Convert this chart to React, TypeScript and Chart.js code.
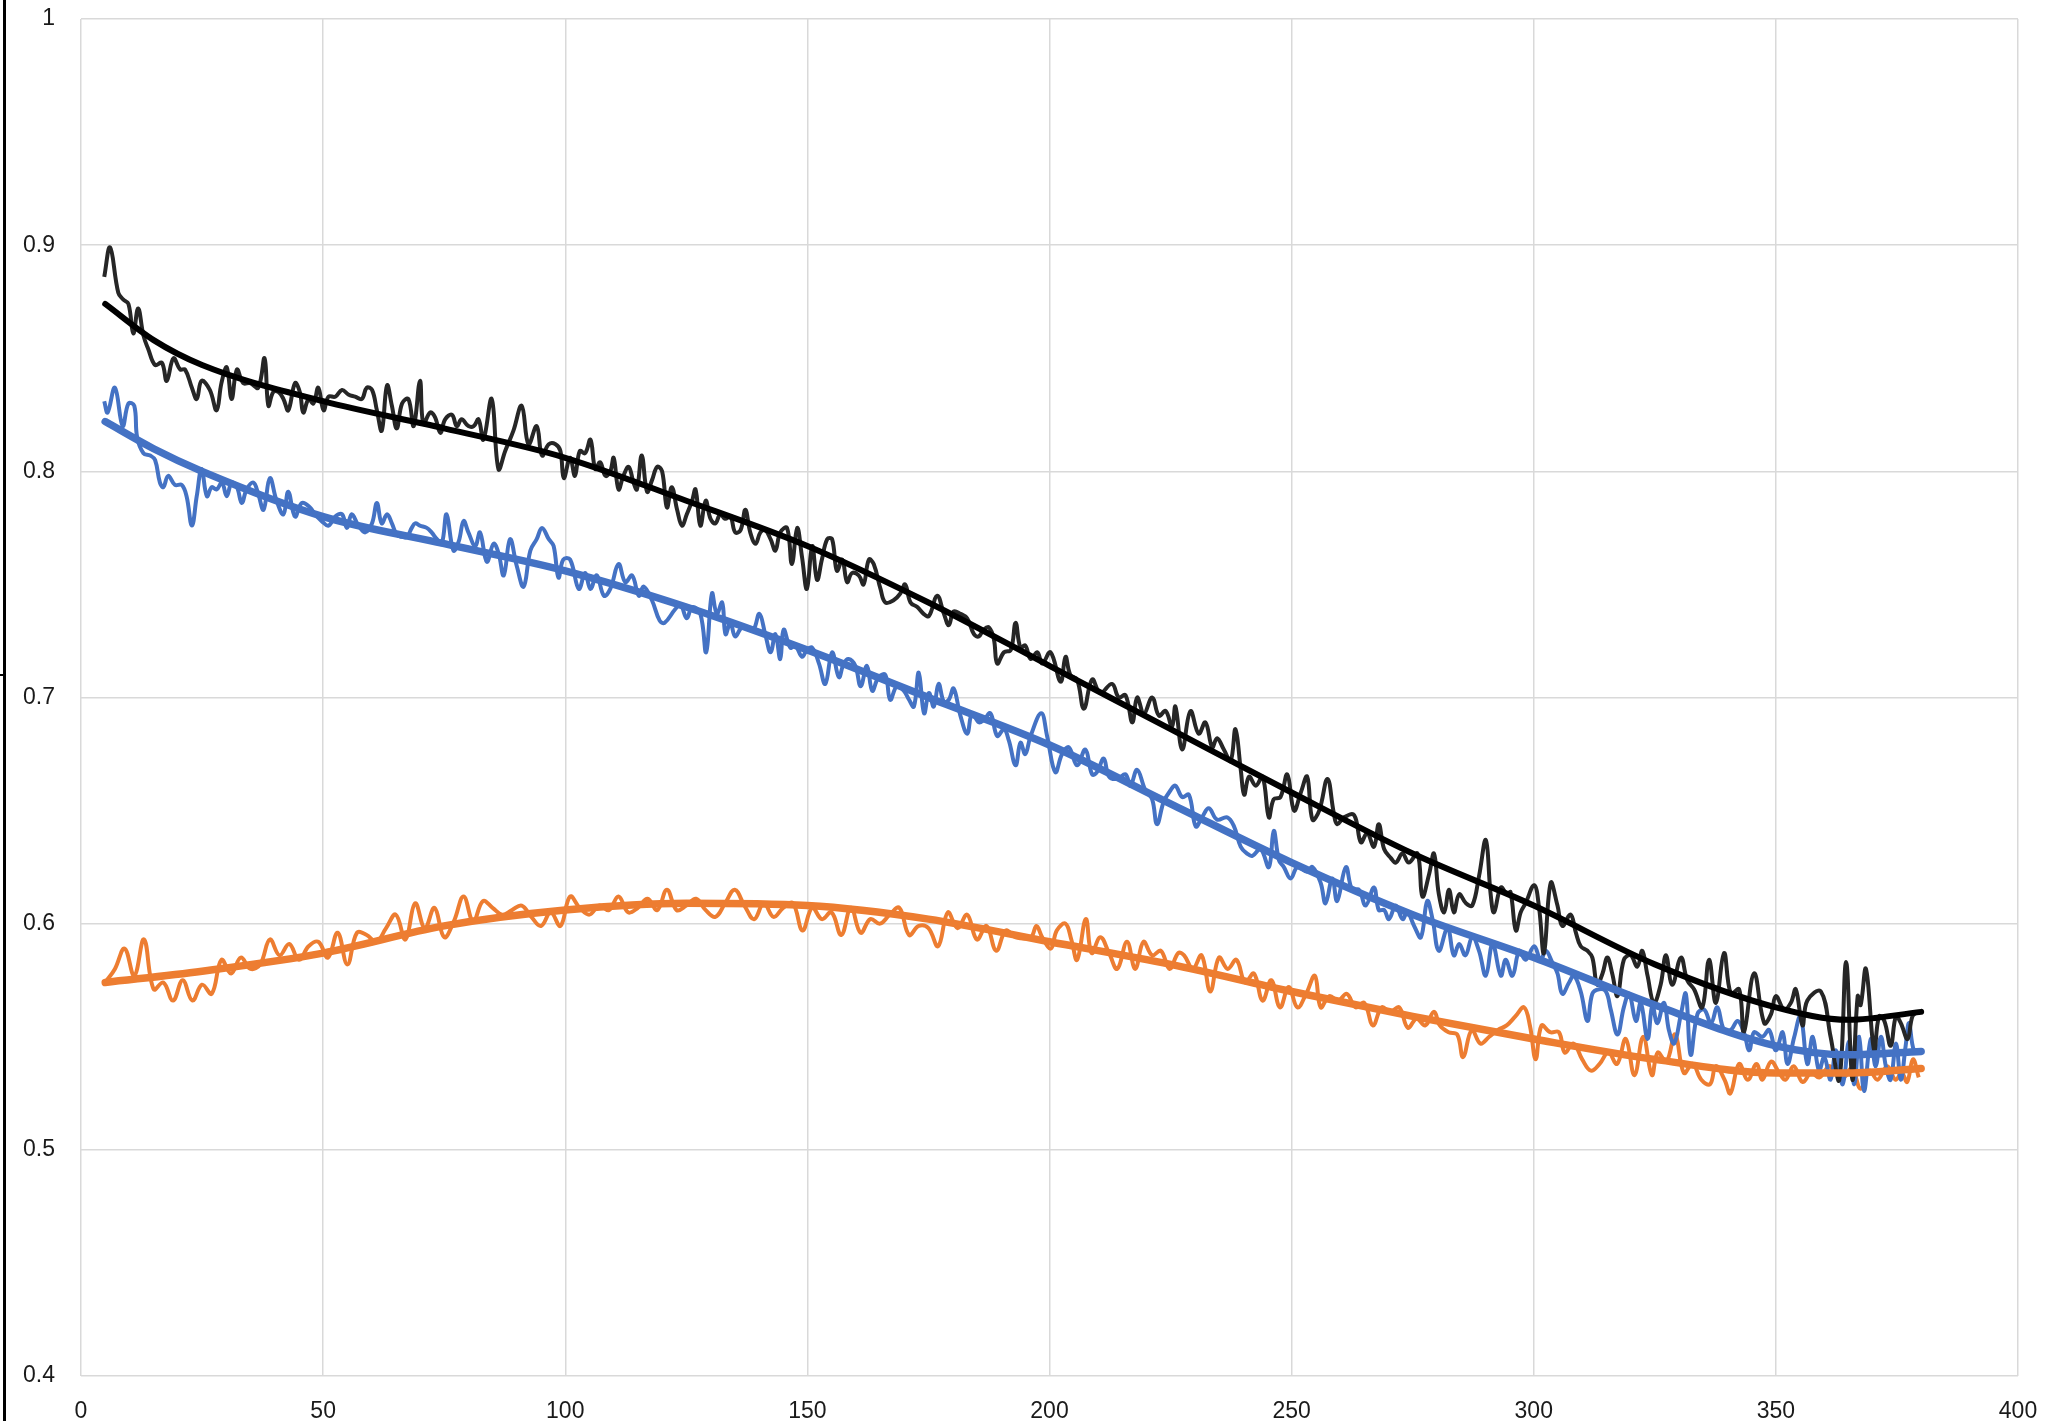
import { useEffect, useRef } from "react";
import { Chart, registerables } from "chart.js";
Chart.register(...registerables);

const X_MIN = 0;
const X_MAX = 400;
const X_STEP = 50;
const Y_MIN = 0.4;
const Y_MAX = 1;
const Y_STEP = 0.1;

const blackNoisy: number[][] = [[4.8,0.886],[6.0,0.899],[7.7,0.879],[8.7,0.876],[9.8,0.874],[10.8,0.861],[11.8,0.872],[12.9,0.860],[13.9,0.854],[15.3,0.847],[16.7,0.848],[17.7,0.840],[19.1,0.850],[20.5,0.845],[21.5,0.845],[22.9,0.837],[23.9,0.832],[24.9,0.840],[26.6,0.836],[28.0,0.827],[29.0,0.839],[30.1,0.846],[31.1,0.832],[32.2,0.845],[33.5,0.839],[34.9,0.839],[36.6,0.837],[37.9,0.850],[38.7,0.829],[39.7,0.835],[40.8,0.835],[41.8,0.832],[42.8,0.827],[44.2,0.839],[45.2,0.835],[45.9,0.826],[47.0,0.832],[48.0,0.830],[49.0,0.837],[50.1,0.827],[51.1,0.833],[52.5,0.833],[53.9,0.836],[55.2,0.834],[56.6,0.833],[58.0,0.832],[59.0,0.837],[60.1,0.836],[61.1,0.827],[62.1,0.818],[63.2,0.838],[64.2,0.829],[65.2,0.819],[66.3,0.830],[67.6,0.832],[68.7,0.820],[70.0,0.840],[70.7,0.821],[72.1,0.826],[73.1,0.824],[74.2,0.817],[75.2,0.823],[76.6,0.825],[77.6,0.820],[78.6,0.823],[80.0,0.820],[81.1,0.820],[82.1,0.823],[83.1,0.814],[84.8,0.832],[86.2,0.801],[87.6,0.809],[89.3,0.818],[91.0,0.829],[92.4,0.812],[94.1,0.820],[95.2,0.807],[96.6,0.812],[98.0,0.812],[99.0,0.809],[99.7,0.797],[101.0,0.806],[102.0,0.798],[103.0,0.809],[104.1,0.808],[105.2,0.814],[106.2,0.801],[107.2,0.804],[108.3,0.798],[109.3,0.800],[110.0,0.806],[111.0,0.792],[112.0,0.798],[113.1,0.802],[114.1,0.795],[114.8,0.792],[115.8,0.807],[116.9,0.791],[117.9,0.796],[119.0,0.802],[120.0,0.800],[121.0,0.784],[122.0,0.793],[123.1,0.783],[124.1,0.776],[125.1,0.781],[126.2,0.787],[126.9,0.792],[127.9,0.776],[129.0,0.787],[130.0,0.779],[131.0,0.777],[132.0,0.781],[133.0,0.779],[134.1,0.780],[135.1,0.773],[136.2,0.774],[137.2,0.783],[138.2,0.773],[139.3,0.768],[140.3,0.773],[141.3,0.774],[142.4,0.770],[143.4,0.765],[144.4,0.773],[145.8,0.775],[146.8,0.759],[147.9,0.775],[148.9,0.762],[149.9,0.748],[151.0,0.767],[152.0,0.752],[153.0,0.761],[154.1,0.770],[155.1,0.770],[156.1,0.756],[157.2,0.761],[158.2,0.751],[159.2,0.755],[160.6,0.754],[161.6,0.750],[162.7,0.761],[163.7,0.759],[165.1,0.748],[166.1,0.742],[167.8,0.743],[169.2,0.746],[170.2,0.750],[171.3,0.742],[172.7,0.740],[174.0,0.737],[175.1,0.736],[176.8,0.745],[178.2,0.737],[179.2,0.732],[180.2,0.738],[181.6,0.737],[183.0,0.735],[184.4,0.728],[185.4,0.727],[186.4,0.730],[187.5,0.731],[188.5,0.726],[189.2,0.715],[190.6,0.720],[192.0,0.721],[193.0,0.733],[194.0,0.722],[195.0,0.723],[196.1,0.717],[197.5,0.720],[198.5,0.715],[200.2,0.720],[202.3,0.707],[203.3,0.718],[204.3,0.710],[205.7,0.708],[207.1,0.695],[208.8,0.708],[210.5,0.702],[212.9,0.706],[214.3,0.700],[215.7,0.701],[217.1,0.689],[218.1,0.700],[219.5,0.693],[221.2,0.700],[222.6,0.692],[224.0,0.694],[225.3,0.687],[226.0,0.696],[227.4,0.677],[229.1,0.694],[230.8,0.684],[232.2,0.689],[233.6,0.678],[234.6,0.682],[236.0,0.677],[237.4,0.672],[238.4,0.686],[239.5,0.668],[240.2,0.657],[241.2,0.665],[242.6,0.661],[244.0,0.665],[245.3,0.647],[246.3,0.655],[247.7,0.656],[249.1,0.666],[250.5,0.650],[251.9,0.658],[253.2,0.665],[254.3,0.646],[255.7,0.650],[257.4,0.664],[258.7,0.649],[259.4,0.644],[260.8,0.647],[262.9,0.648],[264.3,0.636],[265.6,0.640],[267.0,0.634],[268.0,0.644],[269.1,0.633],[270.5,0.629],[271.5,0.627],[272.9,0.631],[274.2,0.627],[276.0,0.631],[277.0,0.612],[278.4,0.622],[279.4,0.631],[280.4,0.613],[281.5,0.605],[282.5,0.615],[283.5,0.605],[284.6,0.613],[286.0,0.609],[287.3,0.608],[288.7,0.621],[290.1,0.637],[291.1,0.613],[291.8,0.605],[293.2,0.616],[294.5,0.613],[295.2,0.614],[296.3,0.597],[297.3,0.605],[298.3,0.609],[300.1,0.617],[301.1,0.607],[302.1,0.587],[303.5,0.618],[304.9,0.608],[305.9,0.599],[307.6,0.604],[308.7,0.596],[309.7,0.590],[311.1,0.588],[312.1,0.585],[313.1,0.573],[314.2,0.578],[315.2,0.585],[316.2,0.578],[317.3,0.568],[318.6,0.584],[320.0,0.586],[321.4,0.581],[322.4,0.588],[323.5,0.577],[324.8,0.565],[326.2,0.573],[327.3,0.586],[328.6,0.573],[330.4,0.585],[331.7,0.575],[333.1,0.571],[334.8,0.563],[336.2,0.584],[337.6,0.565],[339.3,0.587],[340.7,0.569],[342.4,0.571],[343.4,0.552],[345.5,0.578],[347.6,0.556],[349.0,0.560],[350.0,0.568],[351.7,0.562],[353.1,0.565],[354.1,0.571],[355.5,0.555],[356.5,0.566],[359.3,0.570],[361.3,0.550],[363.1,0.531],[364.5,0.583],[365.8,0.531],[366.9,0.568],[367.5,0.564],[368.6,0.580],[370.3,0.544],[371.3,0.559],[372.4,0.557],[373.7,0.546],[374.8,0.559],[375.8,0.556],[377.2,0.549],[378.2,0.559],[379.3,0.561]];

const blueNoisy: number[][] = [[4.8,0.831],[5.5,0.826],[7.0,0.837],[8.6,0.820],[9.8,0.830],[11.0,0.829],[11.6,0.815],[12.9,0.808],[14.3,0.807],[15.3,0.805],[16.3,0.795],[17.0,0.793],[18.0,0.798],[19.4,0.794],[20.8,0.794],[21.8,0.789],[22.9,0.776],[23.9,0.789],[24.9,0.801],[26.0,0.789],[27.0,0.793],[28.0,0.792],[29.1,0.795],[30.1,0.789],[31.1,0.795],[32.2,0.793],[33.2,0.786],[34.2,0.792],[35.6,0.795],[36.6,0.790],[37.7,0.783],[39.0,0.797],[40.4,0.787],[41.8,0.781],[42.8,0.791],[44.2,0.780],[45.6,0.786],[47.3,0.784],[48.3,0.781],[49.7,0.778],[51.1,0.776],[52.5,0.780],[53.9,0.781],[54.9,0.775],[55.9,0.781],[57.3,0.776],[58.7,0.773],[60.1,0.777],[61.1,0.786],[62.1,0.777],[63.2,0.781],[64.2,0.777],[65.2,0.772],[66.3,0.771],[67.3,0.771],[68.3,0.775],[69.0,0.777],[70.0,0.776],[71.4,0.775],[72.4,0.773],[73.5,0.770],[74.5,0.768],[75.5,0.781],[76.9,0.765],[78.0,0.769],[79.0,0.778],[80.0,0.773],[81.4,0.767],[82.4,0.773],[83.8,0.760],[85.2,0.768],[86.2,0.764],[87.3,0.754],[88.6,0.770],[90.0,0.758],[91.4,0.749],[92.8,0.765],[94.1,0.770],[95.2,0.775],[96.6,0.770],[97.6,0.767],[98.6,0.753],[99.6,0.761],[101.0,0.761],[102.8,0.748],[104.1,0.755],[105.2,0.748],[106.5,0.754],[108.0,0.745],[109.3,0.748],[111.0,0.759],[112.4,0.751],[113.8,0.754],[115.2,0.745],[116.2,0.749],[117.9,0.743],[119.5,0.734],[120.5,0.733],[122.7,0.739],[123.8,0.741],[125.1,0.735],[126.2,0.740],[127.9,0.737],[129.1,0.720],[130.3,0.746],[131.3,0.737],[132.4,0.742],[133.1,0.728],[134.1,0.733],[135.1,0.727],[136.5,0.731],[137.9,0.730],[138.9,0.730],[140.1,0.737],[141.3,0.728],[142.4,0.720],[143.4,0.728],[144.4,0.717],[145.1,0.730],[146.5,0.722],[147.5,0.723],[148.9,0.718],[149.9,0.721],[151.0,0.722],[152.4,0.715],[153.7,0.706],[155.1,0.720],[156.5,0.709],[157.5,0.715],[158.5,0.717],[159.9,0.714],[161.0,0.705],[162.3,0.714],[163.4,0.703],[164.7,0.709],[166.1,0.710],[167.1,0.699],[168.5,0.705],[169.9,0.703],[171.0,0.699],[172.0,0.696],[173.0,0.711],[174.1,0.693],[175.1,0.702],[176.1,0.696],[177.1,0.706],[178.2,0.698],[179.2,0.699],[180.2,0.704],[181.6,0.692],[183.0,0.684],[184.0,0.693],[185.4,0.689],[186.4,0.690],[187.8,0.693],[189.2,0.683],[190.6,0.686],[191.6,0.681],[193.0,0.670],[194.0,0.680],[195.0,0.675],[196.1,0.683],[198.3,0.693],[199.5,0.683],[201.2,0.667],[202.6,0.675],[204.0,0.678],[205.7,0.670],[207.4,0.677],[208.8,0.666],[209.8,0.667],[211.2,0.673],[212.3,0.665],[214.0,0.664],[215.7,0.666],[216.7,0.661],[218.1,0.668],[219.8,0.659],[221.2,0.655],[222.2,0.644],[223.6,0.654],[225.0,0.659],[226.0,0.661],[227.4,0.656],[228.8,0.657],[230.2,0.643],[231.5,0.647],[232.9,0.651],[234.6,0.646],[236.7,0.647],[238.1,0.643],[239.5,0.634],[240.8,0.631],[241.9,0.630],[243.6,0.633],[245.3,0.625],[246.3,0.641],[247.4,0.628],[248.4,0.625],[249.8,0.620],[251.2,0.625],[253.2,0.623],[254.3,0.625],[256.0,0.618],[257.0,0.609],[258.4,0.620],[259.4,0.610],[261.2,0.625],[262.5,0.615],[263.9,0.615],[265.3,0.608],[267.0,0.616],[268.0,0.606],[269.1,0.606],[270.1,0.602],[271.5,0.608],[272.9,0.602],[273.9,0.605],[275.3,0.599],[276.7,0.594],[278.0,0.610],[279.1,0.602],[280.4,0.588],[282.2,0.598],[283.5,0.586],[284.6,0.591],[285.9,0.586],[287.3,0.594],[288.7,0.588],[290.1,0.577],[291.5,0.591],[293.2,0.577],[294.2,0.584],[295.6,0.577],[297.0,0.588],[298.3,0.584],[300.1,0.590],[301.4,0.584],[302.5,0.588],[303.8,0.583],[304.9,0.578],[305.9,0.569],[307.3,0.574],[308.3,0.577],[309.7,0.570],[311.1,0.557],[312.1,0.569],[313.5,0.571],[314.9,0.570],[315.9,0.562],[317.3,0.551],[318.6,0.563],[319.7,0.569],[321.1,0.557],[322.1,0.565],[323.5,0.549],[324.5,0.564],[325.5,0.556],[326.9,0.565],[327.9,0.553],[329.0,0.547],[330.4,0.560],[331.4,0.569],[332.4,0.542],[333.8,0.560],[335.2,0.562],[336.6,0.556],[337.9,0.563],[339.3,0.553],[340.7,0.553],[342.1,0.557],[343.4,0.552],[344.5,0.544],[345.5,0.552],[347.2,0.550],[348.6,0.553],[350.0,0.544],[351.4,0.552],[352.4,0.538],[353.8,0.550],[355.1,0.559],[356.5,0.538],[357.6,0.550],[358.9,0.535],[360.0,0.541],[361.3,0.531],[362.4,0.544],[363.8,0.529],[365.1,0.548],[366.2,0.529],[367.2,0.550],[368.2,0.526],[369.6,0.549],[370.6,0.537],[371.7,0.550],[372.7,0.537],[373.7,0.531],[374.8,0.547],[375.8,0.531],[376.8,0.546],[377.5,0.556],[378.5,0.544],[379.6,0.544]];

const orangeNoisy: number[][] = [[5,0.574],[7,0.580],[9,0.589],[11,0.577],[13,0.593],[15,0.571],[17,0.574],[19,0.566],[21,0.575],[23,0.566],[25,0.573],[27,0.569],[29,0.584],[31,0.578],[33,0.585],[35,0.580],[37,0.582],[39,0.593],[41,0.586],[43,0.591],[45,0.584],[47,0.590],[49,0.592],[51,0.585],[53,0.596],[55,0.582],[57,0.596],[59,0.595],[61,0.592],[63,0.598],[65,0.604],[67,0.593],[69,0.609],[71,0.598],[73,0.607],[75,0.594],[77,0.601],[79,0.612],[81,0.601],[83,0.610],[85,0.607],[87,0.604],[89,0.606],[91,0.608],[93,0.603],[95,0.599],[97,0.605],[99,0.599],[101,0.612],[103,0.607],[105,0.604],[107,0.608],[109,0.606],[111,0.612],[113,0.605],[115,0.607],[117,0.611],[119,0.606],[121,0.615],[123,0.606],[125,0.608],[127,0.611],[129,0.606],[131,0.603],[133,0.609],[135,0.615],[137,0.608],[139,0.602],[141,0.609],[143,0.603],[145,0.607],[147,0.609],[149,0.597],[151,0.607],[153,0.602],[155,0.605],[157,0.595],[159,0.607],[161,0.596],[163,0.602],[165,0.600],[167,0.604],[169,0.607],[171,0.595],[173,0.599],[175,0.598],[177,0.590],[179,0.605],[181,0.598],[183,0.604],[185,0.593],[187,0.599],[189,0.588],[191,0.597],[193,0.594],[196.1,0.594],[197.3,0.599],[198.5,0.594],[200.3,0.589],[201.5,0.597],[203.3,0.600],[204.5,0.593],[205.7,0.584],[207.5,0.602],[208.7,0.587],[210.5,0.594],[212.3,0.587],[214.0,0.580],[216.0,0.592],[217.7,0.580],[219.4,0.592],[221.2,0.586],[223.0,0.588],[224.8,0.580],[226.6,0.587],[227.8,0.586],[229.6,0.580],[231.4,0.586],[233.2,0.570],[235.0,0.585],[236.8,0.580],[238.6,0.584],[240.4,0.574],[242.2,0.578],[244.0,0.566],[245.8,0.575],[247.6,0.563],[249.4,0.572],[251.2,0.563],[253.0,0.569],[254.8,0.577],[256.0,0.563],[257.8,0.568],[259.6,0.566],[261.4,0.569],[263.2,0.563],[265.0,0.565],[266.8,0.555],[268.6,0.563],[270.4,0.561],[272.2,0.563],[274.0,0.554],[275.8,0.558],[277.6,0.555],[279.4,0.561],[280.6,0.555],[282.4,0.552],[284.2,0.551],[285.4,0.541],[287.2,0.553],[289.0,0.547],[290.8,0.550],[292.6,0.553],[294.4,0.555],[296.2,0.559],[298.0,0.563],[299.2,0.555],[300.4,0.540],[301.6,0.555],[303.4,0.552],[305.2,0.552],[306.4,0.543],[308.2,0.547],[310.0,0.540],[311.8,0.535],[313.6,0.538],[315.4,0.543],[317.2,0.538],[319.0,0.549],[320.8,0.533],[322.6,0.550],[324.4,0.533],[325.6,0.543],[327.4,0.539],[329.2,0.551],[331.0,0.534],[332.8,0.538],[334.6,0.531],[336.4,0.529],[337.6,0.537],[339.4,0.531],[340.6,0.525],[342.4,0.538],[344.2,0.531],[346.0,0.538],[347.2,0.531],[349.0,0.539],[350.7,0.534],[352.0,0.531],[353.7,0.537],[355.5,0.530],[357.3,0.534],[359.0,0.532],[361.0,0.537],[362.0,0.535],[364.0,0.532],[365.7,0.536],[367.5,0.527],[369.3,0.535],[371.0,0.531],[373.0,0.537],[374.7,0.531],[376.0,0.534],[377.1,0.530],[378.3,0.540],[379.5,0.532]];

const blackTrend: number[][] = [[5,0.874],[15,0.858],[25,0.847],[50,0.831],[75,0.819],[100,0.806],[125,0.787],[150,0.767],[175,0.742],[200,0.714],[225,0.686],[250,0.658],[275,0.631],[300,0.608],[325,0.582],[350,0.563],[365,0.5575],[380,0.561]];
const blueTrend: number[][] = [[5,0.822],[15,0.810],[25,0.800],[50,0.780],[75,0.768],[100,0.756],[125,0.740],[150,0.721],[175,0.700],[200,0.679],[225,0.653],[250,0.627],[275,0.604],[300,0.585],[325,0.564],[350,0.546],[365,0.542],[380,0.5435]];
const orangeTrend: number[][] = [[5,0.574],[25,0.579],[50,0.587],[75,0.599],[100,0.606],[125,0.609],[150,0.608],[175,0.602],[200,0.592],[225,0.582],[250,0.570],[275,0.559],[300,0.549],[325,0.540],[350,0.534],[365,0.534],[380,0.536]];

const toPts = (arr: number[][]) => arr.map(([x, y]) => ({ x, y }));

const leftRule = {
  id: "leftRule",
  afterDraw(chart: any) {
    const ctx = chart.ctx;
    ctx.save();
    ctx.fillStyle = "#000000";
    ctx.fillRect(3, 0, 3, chart.height);
    ctx.fillRect(0, 674, 4, 2);
    ctx.restore();
  },
};

export default function App() {
  const ref = useRef<HTMLCanvasElement | null>(null);
  useEffect(() => {
    if (!ref.current) return;
    const noisy = (data: number[][], color: string) => ({
      data: toPts(data),
      borderColor: color,
      borderWidth: 4,
      pointRadius: 0,
      tension: 0.4,
      fill: false,
      borderJoinStyle: "round" as const,
      order: 1,
    });
    const trend = (data: number[][], color: string, w: number) => ({
      data: toPts(data),
      borderColor: color,
      borderWidth: w,
      pointRadius: 0,
      cubicInterpolationMode: "monotone" as const,
      fill: false,
      borderCapStyle: "round" as const,
      order: 0,
    });
    const chart = new Chart(ref.current, {
      type: "line",
      data: {
        datasets: [
          trend(blackTrend, "#000000", 6),
          trend(blueTrend, "#4472C4", 7.5),
          trend(orangeTrend, "#ED7D31", 7.5),
          noisy(blackNoisy, "#262626"),
          noisy(blueNoisy, "#4472C4"),
          noisy(orangeNoisy, "#ED7D31"),
        ] as any,
      },
      options: {
        animation: false,
        responsive: false,
        devicePixelRatio: 1,
        layout: { autoPadding: false, padding: { left: 0, top: 19, right: 46, bottom: 0 } },
        plugins: { legend: { display: false }, tooltip: { enabled: false } },
        scales: {
          x: {
            type: "linear",
            min: X_MIN,
            max: X_MAX,
            border: { display: false },
            grid: { color: "#d9d9d9", lineWidth: 1.5, drawTicks: false },
            ticks: {
              stepSize: X_STEP,
              padding: 22,
              color: "#1a1a1a",
              font: { family: "'Liberation Sans', Arial, sans-serif", size: 23 },
              maxRotation: 0,
            },
            afterFit: (s: any) => {
              s.height = 45;
              s.paddingLeft = 0;
              s.paddingRight = 0;
            },
          },
          y: {
            type: "linear",
            min: Y_MIN,
            max: Y_MAX,
            border: { display: false },
            grid: { color: "#d9d9d9", lineWidth: 1.5, drawTicks: false },
            ticks: {
              stepSize: Y_STEP,
              padding: 26,
              color: "#1a1a1a",
              font: { family: "'Liberation Sans', Arial, sans-serif", size: 23 },
              callback: (v: any) => String(parseFloat(Number(v).toFixed(1))),
            },
            afterFit: (s: any) => {
              s.width = 81;
              s.paddingTop = 0;
              s.paddingBottom = 0;
            },
          },
        },
      },
      plugins: [leftRule],
    });
    return () => chart.destroy();
  }, []);
  return (
    <div style={{ position: "fixed", left: 0, top: 0, width: 2064, height: 1421, background: "#ffffff", overflow: "hidden" }}>
      <canvas ref={ref} width={2064} height={1421} style={{ display: "block" }} />
    </div>
  );
}
